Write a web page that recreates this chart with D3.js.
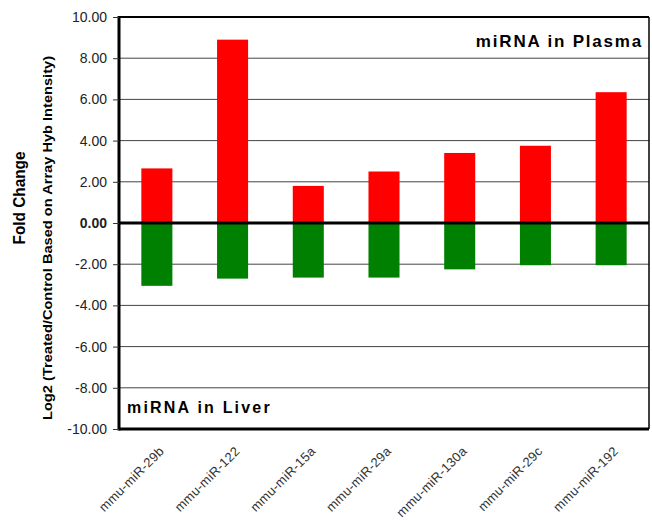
<!DOCTYPE html>
<html>
<head>
<meta charset="utf-8">
<script src="https://cdn.jsdelivr.net/npm/d3@7"></script>
<style>
  body { margin: 0; background: #fff; }
  svg text { font-family: Arial, "Liberation Sans", sans-serif; }
</style>
</head>
<body>
<div id="chart"></div>
<script>
const categories = ["mmu-miR-29b", "mmu-miR-122", "mmu-miR-15a", "mmu-miR-29a", "mmu-miR-130a", "mmu-miR-29c", "mmu-miR-192"];
const plasma = [2.65, 8.9, 1.8, 2.5, 3.4, 3.75, 6.35];
const liver = [-3.05, -2.7, -2.65, -2.65, -2.25, -2.05, -2.05];
const yTicks = [10, 8, 6, 4, 2, 0, -2, -4, -6, -8, -10];

const width = 652, height = 521;
const margin = {top: 17, right: 3, bottom: 92, left: 119};
const w = width - margin.left - margin.right;
const h = height - margin.top - margin.bottom;

const svg = d3.select("#chart").append("svg")
    .attr("width", width)
    .attr("height", height);
const g = svg.append("g")
    .attr("transform", "translate(" + margin.left + "," + margin.top + ")");

const x = d3.scaleBand().domain(categories).range([0, w]).paddingInner(0.59).paddingOuter(0.295);
const y = d3.scaleLinear().domain([-10, 10]).range([h, 0]);

// gridlines
g.append("g")
    .selectAll("line")
    .data(yTicks.filter(d => d !== 0 && Math.abs(d) !== 10))
    .enter()
    .append("line")
    .attr("x1", 0).attr("x2", w)
    .attr("y1", d => y(d)).attr("y2", d => y(d))
    .attr("stroke", "#444")
    .attr("stroke-width", 1);

// bars
g.append("g")
    .selectAll("rect")
    .data(plasma)
    .enter()
    .append("rect")
    .attr("x", (d, i) => x(categories[i]))
    .attr("width", x.bandwidth())
    .attr("y", d => y(d))
    .attr("height", d => y(0) - y(d))
    .attr("fill", "#ff0000");

g.append("g")
    .selectAll("rect")
    .data(liver)
    .enter()
    .append("rect")
    .attr("x", (d, i) => x(categories[i]))
    .attr("width", x.bandwidth())
    .attr("y", y(0))
    .attr("height", d => y(d) - y(0))
    .attr("fill", "#008000");

// frame
g.append("line").attr("x1", 0).attr("x2", w).attr("y1", 0).attr("y2", 0)
    .attr("stroke", "#000").attr("stroke-width", 2);
g.append("line").attr("x1", w).attr("x2", w).attr("y1", 0).attr("y2", h)
    .attr("stroke", "#000").attr("stroke-width", 1.5);
g.append("line").attr("x1", 0).attr("x2", w).attr("y1", h).attr("y2", h)
    .attr("stroke", "#000").attr("stroke-width", 3);
g.append("line").attr("x1", 0).attr("x2", w).attr("y1", y(0)).attr("y2", y(0))
    .attr("stroke", "#000").attr("stroke-width", 3);

// y axis, hyphen minus like the original
const fmt = d => d.toFixed(2);
const yAxis = g.append("g")
    .call(d3.axisLeft(y).tickValues(yTicks).tickSize(6).tickPadding(6).tickFormat(fmt));
yAxis.select(".domain").attr("stroke-width", 3).attr("d", "M0," + (-1) + "V" + (h + 1.5));
yAxis.selectAll(".tick line").attr("stroke", "#333");
yAxis.selectAll(".tick text")
    .attr("font-size", 14)
    .attr("fill", "#222")
    .attr("font-weight", d => d === 0 ? "bold" : "normal");

// x labels
g.append("g")
    .selectAll("text")
    .data(categories)
    .enter()
    .append("text")
    .attr("transform", d => "translate(" + (x(d) + x.bandwidth() / 2 + 8) + "," + (h + 23) + ") rotate(-45)")
    .attr("text-anchor", "end")
    .attr("font-size", 13)
    .attr("letter-spacing", 0.3)
    .attr("fill", "#333")
    .text(d => d);

// axis titles
svg.append("text")
    .attr("transform", "translate(25,198) rotate(-90)")
    .attr("text-anchor", "middle")
    .attr("font-size", 16)
    .attr("font-weight", "bold")
    .attr("textLength", 93)
    .attr("lengthAdjust", "spacingAndGlyphs")
    .text("Fold Change");
svg.append("text")
    .attr("transform", "translate(52,238) rotate(-90)")
    .attr("text-anchor", "middle")
    .attr("font-size", 13.5)
    .attr("font-weight", "bold")
    .attr("textLength", 364)
    .attr("lengthAdjust", "spacingAndGlyphs")
    .text("Log2  (Treated/Control Based on Array Hyb Intensity)");

// annotations
svg.append("text")
    .attr("x", 643).attr("y", 47)
    .attr("text-anchor", "end")
    .attr("font-size", 17)
    .attr("font-weight", "bold")
    .attr("letter-spacing", 1.8)
    .text("miRNA in Plasma");
svg.append("text")
    .attr("x", 127).attr("y", 413)
    .attr("font-size", 16)
    .attr("font-weight", "bold")
    .attr("letter-spacing", 2.2)
    .text("miRNA in Liver");
</script>
</body>
</html>
